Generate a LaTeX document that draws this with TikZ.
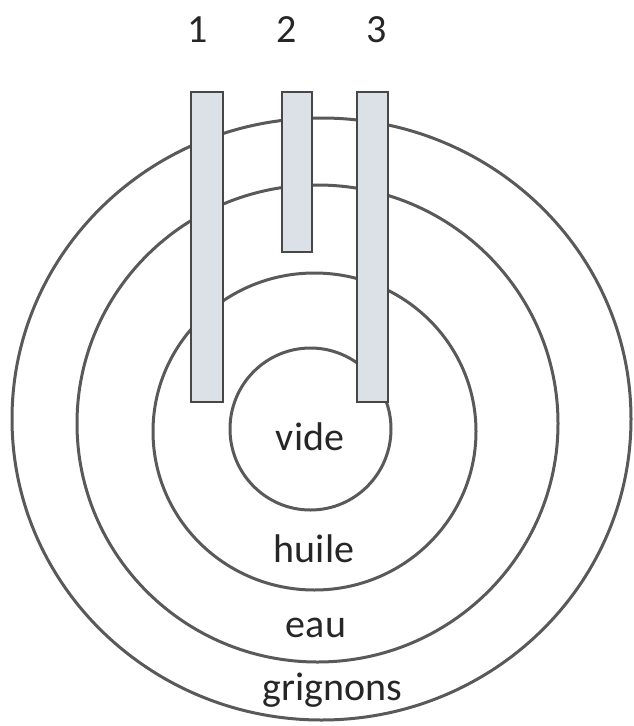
\documentclass[tikz,border=0pt]{standalone}
\usepackage{fontspec}
\setmainfont{Carlito}
\begin{document}
\begin{tikzpicture}[x=1pt,y=-1pt,
  ring/.style={draw=black!65, line width=3pt},
  tube/.style={draw=black!72, line width=2pt, fill=tubefill},
  lbl/.style={font=\fontsize{40}{44}\selectfont, text=black!85, inner sep=0pt}]
\definecolor{tubefill}{HTML}{DCE1E8}
\useasboundingbox (0,0) rectangle (633,726);
% rings
\draw[ring] (321.5,419) ellipse [x radius=309.5, y radius=301];
\draw[ring] (317.5,423.5) ellipse [x radius=240.5, y radius=238.5];
\draw[ring] (314.5,431.5) ellipse [x radius=161.5, y radius=158.5];
\draw[ring] (310.5,429) ellipse [x radius=80.5, y radius=81];
% tubes
\draw[tube] (191,92) rectangle (223,402);
\draw[tube] (282,92) rectangle (312,252);
\draw[tube] (357,92) rectangle (388,402);
% labels
\node[lbl] (n1) at (198,30) {1};
\node[lbl] (n2) at (287,30) {2};
\node[lbl] (n3) at (377,30) {3};
\node[lbl] (vide) at (310,437) {vide};
\node[lbl] (huile) at (314,549) {huile};
\node[lbl] (eau) at (316,628) {eau};
\node[lbl] (grig) at (332,690) {grignons};
\end{tikzpicture}
\end{document}
